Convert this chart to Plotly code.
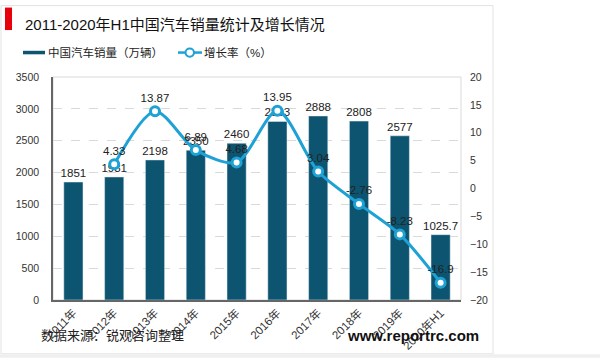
import plotly.graph_objects as go

categories = ["2011年", "2012年", "2013年", "2014年", "2015年", "2016年", "2017年", "2018年", "2019年", "2020年H1"]
sales = [1851, 1931, 2198, 2350, 2460, 2803, 2888, 2808, 2577, 1025.7]
growth = [None, 4.33, 13.87, 6.89, 4.68, 13.95, 3.04, -2.76, -8.23, -16.9]
growth_labels = ["" if g is None else f"{g:g}" for g in growth]
sales_labels = [f"{s:g}" for s in sales]

BAR = "#0d5470"
LINE = "#1ea1d4"
FONT = "Liberation Sans, Noto Sans CJK SC, sans-serif"

W, H = 600, 364
L, R, T, B = 53, 461, 77, 305
pw, ph = R - L, B - T
def px(x): return (x - L) / pw
def py(y): return (B - y) / ph

fig = go.Figure()
fig.add_trace(go.Bar(
    x=categories, y=sales, marker_color=BAR, width=0.47,
    text=sales_labels, textposition="outside", cliponaxis=False,
    constraintext="none",
    textfont=dict(size=11.5, color="#222", family=FONT),
    showlegend=False, yaxis="y",
))
fig.add_trace(go.Scatter(
    x=categories, y=growth, mode="lines+markers+text", yaxis="y2",
    line=dict(color=LINE, width=3, shape="spline", smoothing=0.8),
    marker=dict(size=9, color="white", line=dict(color=LINE, width=3)),
    text=growth_labels, textposition="top center", cliponaxis=False,
    textfont=dict(size=11.5, color="#222", family=FONT),
    showlegend=False, connectgaps=True,
))

fig.update_layout(
    width=W, height=H,
    margin=dict(l=L, r=W - R, t=T, b=H - B, pad=0),
    paper_bgcolor="white", plot_bgcolor="white",
    font=dict(family=FONT, color="#333"),
    bargap=0.53,
    xaxis=dict(
        tickangle=-45, tickfont=dict(size=11.5, color="#333"),
        showline=True, linecolor="#666", linewidth=1.5,
        ticks="", showgrid=False, range=[-0.5, 9.5],
    ),
    yaxis=dict(
        range=[0, 3500], dtick=500, tickfont=dict(size=10.5, color="#333"),
        showline=True, linecolor="#666", linewidth=1.5,
        showgrid=True, gridcolor="#d9d9d9", griddash="dash", gridwidth=1,
        zeroline=False, ticks="", ticklabelstandoff=10,
    ),
    yaxis2=dict(
        overlaying="y", side="right", range=[-20, 20], dtick=5,
        tickfont=dict(size=10.5, color="#333"), showgrid=False,
        zeroline=False, showline=False, ticks="", ticklabelstandoff=8,
    ),
    shapes=[
        dict(type="rect", xref="paper", yref="paper", x0=px(1), x1=px(493), y0=py(360), y1=py(4),
             line=dict(color="#e3e3e3", width=1), fillcolor="rgba(0,0,0,0)", layer="below"),
        dict(type="rect", xref="paper", yref="paper", x0=px(0), x1=px(600), y0=py(364), y1=py(360.5),
             line=dict(width=0), fillcolor="#efefef", layer="below"),
        dict(type="rect", xref="paper", yref="paper", x0=px(5), x1=px(12), y0=py(29), y1=py(6),
             line=dict(width=0), fillcolor="#e8000b"),
        dict(type="rect", xref="paper", yref="paper", x0=0, x1=1, y0=0, y1=1,
             line=dict(color="#d9d9d9", width=1), fillcolor="rgba(0,0,0,0)", layer="below"),
        # legend: bar
        dict(type="rect", xref="paper", yref="paper", x0=px(23), x1=px(45), y0=py(53.8), y1=py(50.2),
             line=dict(width=0), fillcolor=BAR),
        # legend: line
        dict(type="line", xref="paper", yref="paper", x0=px(178), x1=px(202), y0=py(52), y1=py(52),
             line=dict(color=LINE, width=2.5)),
        dict(type="circle", xref="paper", yref="paper", x0=px(185.5), x1=px(194), y0=py(56.2), y1=py(47.8),
             line=dict(color=LINE, width=2), fillcolor="white"),
    ],
    annotations=[
        dict(text="2011-2020年H1中国汽车销量统计及增长情况", xref="paper", yref="paper",
             x=px(23), y=py(23), xanchor="left", yanchor="middle", showarrow=False,
             font=dict(size=15, color="#111", family=FONT)),
        dict(text="中国汽车销量（万辆）", xref="paper", yref="paper",
             x=px(46), y=py(52), xanchor="left", yanchor="middle", showarrow=False,
             font=dict(size=11.5, color="#222", family=FONT)),
        dict(text="增长率（%）", xref="paper", yref="paper",
             x=px(202), y=py(52), xanchor="left", yanchor="middle", showarrow=False,
             font=dict(size=11.5, color="#222", family=FONT)),
        dict(text="数据来源：锐观咨询整理", xref="paper", yref="paper",
             x=px(39), y=py(341), xanchor="left", yanchor="middle", showarrow=False,
             font=dict(size=13, color="#222", family=FONT)),
        dict(text="<b>www.reportrc.com</b>", xref="paper", yref="paper",
             x=px(345), y=py(341), xanchor="left", yanchor="middle", showarrow=False,
             font=dict(size=15, color="#111", family=FONT)),
    ],
)

fig.write_html(
    "out.html",
    config={"displayModeBar": False},
    post_script="document.body.style.margin='0px';document.body.style.overflow='hidden';",
)
